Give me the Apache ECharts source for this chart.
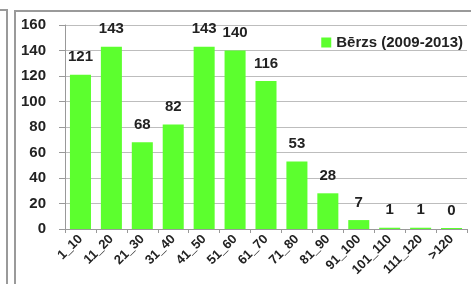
<!DOCTYPE html>
<html>
<head>
<meta charset="utf-8">
<script src="https://cdn.jsdelivr.net/npm/echarts@6/dist/echarts.min.js"></script>
<style>
  html, body { margin: 0; padding: 0; background: #fff; }
  #chart { width: 471px; height: 284px; }
</style>
</head>
<body>
<div id="chart"></div>
<script>
var categories = ['1_10', '11_20', '21_30', '31_40', '41_50', '51_60', '61_70', '71_80', '81_90', '91_100', '101_110', '111_120', '>120'];
var berzs = [121, 143, 68, 82, 143, 140, 116, 53, 28, 7, 1, 1, 0];
var seriesName = 'Bērzs (2009-2013)';

var font = '"Liberation Sans", Arial, sans-serif';

var myChart = echarts.init(document.getElementById('chart'));
option = {
    animation: false,
    backgroundColor: '#fff',
    graphic: [
        // edge of the neighbouring chart on the left
        { type: 'polyline', shape: { points: [[0, 10], [7, 10], [7, 284]] }, style: { stroke: '#9a9a9a', lineWidth: 2, fill: null } },
        // frame of this chart
        { type: 'polyline', shape: { points: [[15, 284], [15, 11], [471, 11]] }, style: { stroke: '#9a9a9a', lineWidth: 2, fill: null } }
    ],
    grid: {
        left: 65,
        right: 4,
        top: 25,
        bottom: 55
    },
    legend: {
        right: 3,
        top: 30,
        itemWidth: 10,
        itemHeight: 10,
        itemGap: 4,
        icon: 'rect',
        textStyle: { fontFamily: font, fontWeight: 'bold', fontSize: 15, color: '#222' },
        data: [seriesName]
    },
    xAxis: {
        type: 'category',
        data: categories,
        axisLine: { lineStyle: { color: '#999' } },
        axisTick: { show: true, length: 4, lineStyle: { color: '#999' } },
        axisLabel: {
            rotate: 45,
            margin: 8,
            interval: 0,
            fontFamily: font,
            fontWeight: 'bold',
            fontSize: 13,
            color: '#222'
        }
    },
    yAxis: {
        type: 'value',
        min: 0,
        max: 160,
        interval: 20,
        axisLine: { show: true, lineStyle: { color: '#999' } },
        axisTick: { show: true, length: 6, lineStyle: { color: '#999' } },
        axisLabel: {
            margin: 19,
            fontFamily: font,
            fontWeight: 'bold',
            fontSize: 15,
            color: '#222'
        },
        splitLine: { lineStyle: { color: '#bdbdbd' } }
    },
    series: [
        {
            name: seriesName,
            type: 'bar',
            data: berzs,
            barWidth: '68%',
            barMinHeight: 1,
            itemStyle: { color: '#5CFF2E' },
            label: {
                show: true,
                position: 'top',
                distance: 10,
                fontFamily: font,
                fontWeight: 'bold',
                fontSize: 15,
                color: '#222'
            }
        }
    ]
};
myChart.setOption(option);
</script>
</body>
</html>
